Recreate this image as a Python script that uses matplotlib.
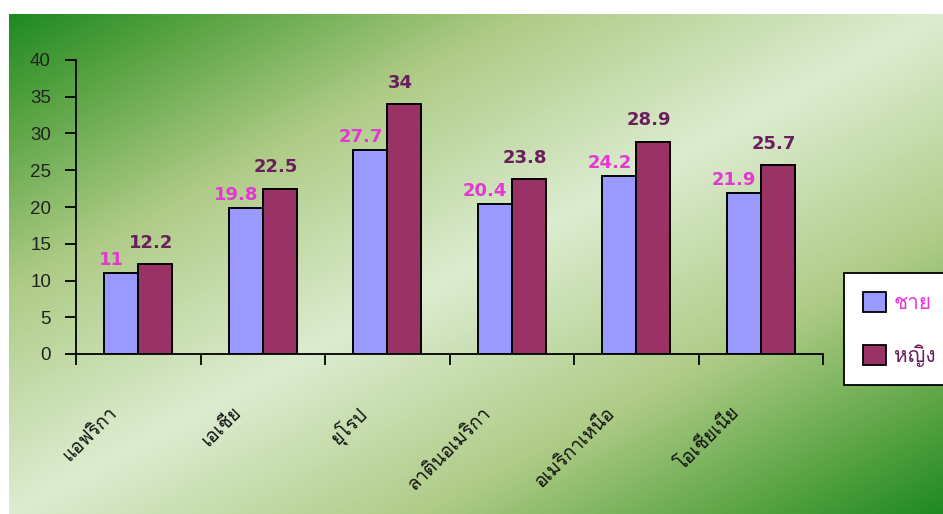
import numpy as np
import matplotlib
matplotlib.use("Agg")
import matplotlib.pyplot as plt
from matplotlib import font_manager
from matplotlib.ft2font import FT2Font
from matplotlib.colors import LinearSegmentedColormap
from matplotlib.patches import Patch
from matplotlib.transforms import offset_copy

REGIONS = ["แอฟริกา", "เอเชีย", "ยุโรป", "ลาตินอเมริกา", "อเมริกาเหนือ", "โอเชียเนีย"]
MALE = [11, 19.8, 27.7, 20.4, 24.2, 21.9]
FEMALE = [12.2, 22.5, 34, 23.8, 28.9, 25.7]
SERIES = ["ชาย", "หญิง"]
Y_TICKS = [0, 5, 10, 15, 20, 25, 30, 35, 40]

MALE_COLOR = "#9999ff"
FEMALE_COLOR = "#993366"
MALE_TEXT = "#e438d4"
FEMALE_TEXT = "#6a1f5c"


def thai_family():
    # pick a font that actually carries Thai glyphs, Tahoma-like first
    found = []
    for f in font_manager.fontManager.ttflist:
        try:
            if ord("ก") in FT2Font(f.fname).get_charmap():
                found.append(f.name)
        except Exception:
            pass
    for name in ["Loma", "Tahoma", "Garuda", "Sawasdee"]:
        if name in found:
            return name
    return found[0] if found else "DejaVu Sans"


def main():
    fam = [thai_family(), "DejaVu Sans"]

    fig = plt.figure(figsize=(9.43, 5.14), dpi=100)
    fig.patch.set_facecolor("white")

    # green diagonal gradient backdrop
    bg = fig.add_axes([9 / 943, 0, 1 - 9 / 943, 500 / 514])
    bg.set_axis_off()
    h, w = 250, 470
    u = np.linspace(0, 1, w)[None, :]
    v = np.linspace(0, 1, h)[:, None]
    d = np.abs(u + v - 1.0)
    cmap = LinearSegmentedColormap.from_list(
        "bg", [(0, "#dcecd0"), (0.45, "#aecb86"), (0.78, "#5aa444"), (1, "#1f8a22")])
    bg.imshow(d, cmap=cmap, aspect="auto", vmin=0, vmax=1, interpolation="bilinear")

    ax = fig.add_axes([76 / 943, 160 / 514, 747 / 943, 294 / 514])
    ax.patch.set_alpha(0)
    x = np.arange(len(REGIONS))
    bw = 0.275
    ax.bar(x - bw / 2, MALE, bw, color=MALE_COLOR, edgecolor="black", linewidth=1.4, zorder=3)
    ax.bar(x + bw / 2, FEMALE, bw, color=FEMALE_COLOR, edgecolor="black", linewidth=1.4, zorder=3)

    for xi, m, f in zip(x, MALE, FEMALE):
        ax.annotate(str(m), (xi - bw / 2, m), xytext=(-7, 3), textcoords="offset points",
                    ha="center", va="bottom", fontsize=13, fontweight="bold", color=MALE_TEXT)
        ax.annotate(str(f), (xi + bw / 2, f), xytext=(-3, 9), textcoords="offset points",
                    ha="center", va="bottom", fontsize=13, fontweight="bold", color=FEMALE_TEXT)

    ax.set_xlim(-0.5, len(REGIONS) - 0.5)
    ax.set_ylim(0, 40)
    ax.set_yticks(Y_TICKS)
    ax.set_yticklabels([str(t) for t in Y_TICKS], fontsize=13.5, color="#222222",
                       family="Liberation Sans")
    ax.set_xticks(np.arange(len(REGIONS) + 1) - 0.5)
    ax.set_xticklabels([])
    ax.tick_params(axis="x", direction="out", length=8, width=1.3)
    ax.tick_params(axis="y", direction="out", length=8, width=1.3, pad=10)

    # rotated category labels, ending a little left of and below each group
    lab_tr = offset_copy(ax.get_xaxis_transform(), fig=fig, x=-24, y=-56, units="dots")
    for xi, name in zip(x, REGIONS):
        ax.text(xi, 0, name, transform=lab_tr, rotation=45, rotation_mode="anchor",
                ha="right", va="center", fontsize=13.5, family=fam, color="#111111")

    for s in ["top", "right"]:
        ax.spines[s].set_visible(False)
    for s in ["left", "bottom"]:
        ax.spines[s].set_linewidth(1.3)

    handles = [Patch(facecolor=MALE_COLOR, edgecolor="black", linewidth=1.3),
               Patch(facecolor=FEMALE_COLOR, edgecolor="black", linewidth=1.3)]
    leg = fig.legend(handles, SERIES, loc="upper left", bbox_to_anchor=(844 / 943, 1 - 273 / 514),
                     prop={"family": fam, "size": 15}, frameon=True, fancybox=False,
                     edgecolor="black", framealpha=1, handlelength=1.1, handleheight=1.1,
                     borderpad=0.9, labelspacing=1.5, handletextpad=0.4, borderaxespad=0)
    leg.get_frame().set_linewidth(1.3)
    for t, c in zip(leg.get_texts(), [MALE_TEXT, FEMALE_TEXT]):
        t.set_color(c)

    fig.savefig("out.png", dpi=100)


if __name__ == "__main__":
    main()
